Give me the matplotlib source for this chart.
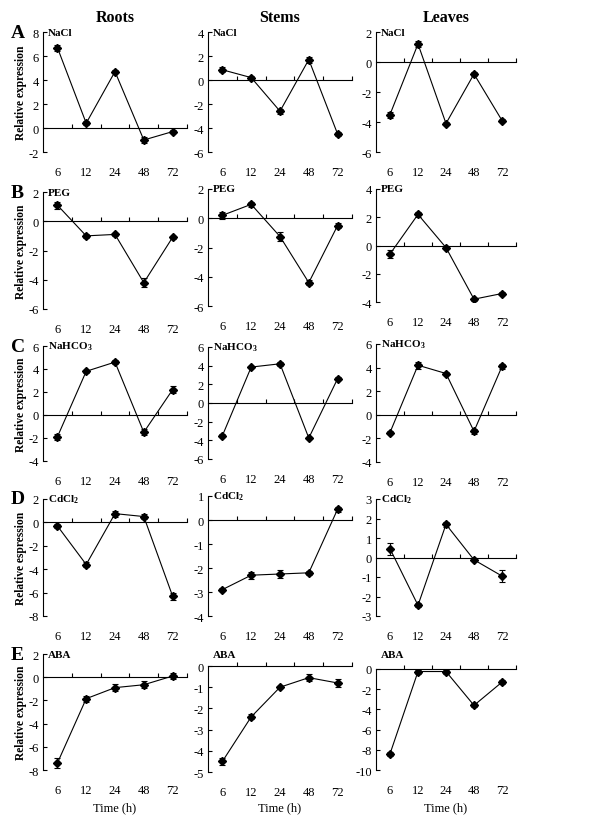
import numpy as np
import matplotlib
matplotlib.use("Agg")
import matplotlib.pyplot as plt

plt.rcParams['font.family'] = ['Liberation Serif', 'DejaVu Serif']
plt.rcParams['axes.unicode_minus'] = False
plt.rcParams['mathtext.fontset'] = 'custom'
plt.rcParams['mathtext.rm'] = 'Liberation Serif'
plt.rcParams['mathtext.bf'] = 'Liberation Serif:bold'

# Data (rows: NaCl, PEG, NaHCO3, CdCl2, ABA)
times = ['6', '12', '24', '48', '72']
tissues = ['Roots', 'Stems', 'Leaves']
treatments = ['NaCl', 'PEG', r'NaHCO$_\mathbf{3}$', r'CdCl$_\mathbf{2}$', 'ABA']
panel_letters = ['A', 'B', 'C', 'D', 'E']

roots_mean = [[6.7, 0.4, 4.7, -1.0, -0.3],
              [1.1, -1.0, -0.9, -4.2, -1.1],
              [-1.9, 3.8, 4.6, -1.5, 2.2],
              [-0.3, -3.6, 0.75, 0.5, -6.3],
              [-7.4, -1.85, -0.9, -0.65, 0.1]]
roots_err = [[0.25, 0.15, 0.15, 0.25, 0.15],
             [0.25, 0.15, 0.12, 0.3, 0.12],
             [0.25, 0.15, 0.2, 0.25, 0.3],
             [0.15, 0.25, 0.25, 0.25, 0.3],
             [0.4, 0.25, 0.3, 0.3, 0.25]]

stems_mean = [[0.85, 0.2, -2.6, 1.7, -4.5],
              [0.2, 0.95, -1.25, -4.4, -0.5],
              [-3.5, 3.85, 4.2, -3.75, 2.6],
              [-2.9, -2.3, -2.25, -2.2, 0.45],
              [-4.5, -2.4, -1.0, -0.55, -0.8]]
stems_err = [[0.2, 0.15, 0.2, 0.25, 0.2],
             [0.25, 0.15, 0.3, 0.15, 0.2],
             [0.15, 0.15, 0.2, 0.15, 0.15],
             [0.05, 0.15, 0.15, 0.08, 0.1],
             [0.15, 0.12, 0.05, 0.15, 0.2]]

leaves_mean = [[-3.5, 1.2, -4.1, -0.8, -3.9],
               [-0.6, 2.2, -0.15, -3.8, -3.4],
               [-1.5, 4.2, 3.5, -1.4, 4.1],
               [0.45, -2.45, 1.7, -0.12, -0.95],
               [-8.4, -0.25, -0.25, -3.6, -1.3]]
leaves_err = [[0.2, 0.2, 0.1, 0.15, 0.1],
              [0.25, 0.2, 0.1, 0.1, 0.1],
              [0.15, 0.3, 0.15, 0.2, 0.2],
              [0.3, 0.1, 0.12, 0.08, 0.3],
              [0.2, 0.2, 0.2, 0.2, 0.2]]

# y range (lo, hi, step) for each panel
ylims = [[(-2, 8, 2), (-6, 4, 2), (-6, 2, 2)],
         [(-6, 2, 2), (-6, 2, 2), (-4, 4, 2)],
         [(-4, 6, 2), (-6, 6, 2), (-4, 6, 2)],
         [(-8, 2, 2), (-4, 1, 1), (-3, 3, 1)],
         [(-8, 2, 2), (-5, 0, 1), (-10, 0, 2)]]

# panel placement in pixels
W, H = 600, 829
col_x = [(43, 187), (208, 352), (376, 516)]
row_y = [[(33, 153), (33, 153), (33, 153)],
         [(193, 310), (190, 307), (190, 303)],
         [(347, 462), (348, 460), (345, 463)],
         [(500, 617), (497, 617), (500, 617)],
         [(655, 771), (667, 773), (670, 771)]]
ylabels = ['Relative expression', 'Relative expression', 'Relative expression',
           'Relative espression', 'Relative expression']

fig = plt.figure(figsize=(W / 100, H / 100), dpi=100)
means = [roots_mean, stems_mean, leaves_mean]
errs = [roots_err, stems_err, leaves_err]
x = np.arange(1, 6)

for r in range(5):
    for c in range(3):
        x0, x1 = col_x[c]
        top, bot = row_y[r][c]
        ax = fig.add_axes([x0 / W, 1 - bot / H, (x1 - x0) / W, (bot - top) / H])
        lo, hi, step = ylims[r][c]
        ax.errorbar(x, means[c][r], yerr=errs[c][r], fmt='-D', color='black',
                    ms=4.5, lw=0.8, elinewidth=0.8, capsize=2, capthick=0.8)
        ax.set_xlim(0.5, 5.5)
        ax.set_ylim(lo, hi)
        ticks = np.arange(lo, hi + step / 2, step)
        ax.set_yticks(ticks)
        ax.set_yticklabels([str(int(t)) for t in ticks], fontsize=9)
        ax.tick_params(axis='y', direction='in', length=3, width=0.8, pad=3)
        for s in ['top', 'right']:
            ax.spines[s].set_visible(False)
        ax.spines['left'].set_linewidth(0.8)
        ax.spines['bottom'].set_position(('data', 0))
        ax.spines['bottom'].set_linewidth(0.8)
        ax.set_xticks([1.5, 2.5, 3.5, 4.5, 5.5])
        ax.tick_params(axis='x', direction='in', length=3, width=0.8, labelbottom=False)
        sec = ax.secondary_xaxis(0)
        sec.set_xticks(x)
        sec.set_xticklabels(times, fontsize=9)
        sec.spines['bottom'].set_visible(False)
        sec.tick_params(length=0, pad=10)

        label_y = 655 if r == 4 else top
        fig.text((x0 + 5) / W, 1 - label_y / H, treatments[r], fontsize=8,
                 fontweight='bold', ha='left', va='center')
        if c == 0:
            fig.text(11 / W, 1 - top / H, panel_letters[r], fontsize=14,
                     fontweight='bold', ha='left', va='center')
            fig.text(21 / W, 1 - (top + bot) / 2 / H, ylabels[r], fontsize=8.3,
                     fontweight='bold', rotation=90, ha='center', va='center')
        if r == 0:
            fig.text((x0 + x1) / 2 / W, 1 - 18 / H, tissues[c], fontsize=11.5,
                     fontweight='bold', ha='center', va='center')
        if r == 4:
            fig.text((x0 + x1) / 2 / W, 1 - 808 / H, 'Time (h)', fontsize=9,
                     ha='center', va='center')

fig.savefig('out.png', dpi=100)
